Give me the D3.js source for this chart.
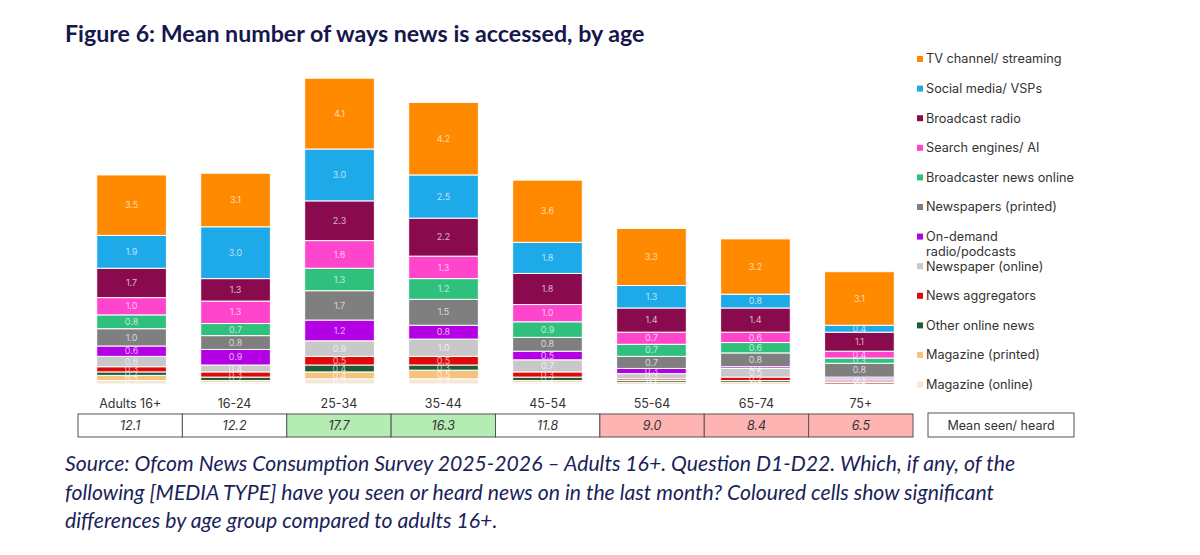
<!DOCTYPE html>
<html>
<head>
<meta charset="utf-8">
<script src="https://cdn.jsdelivr.net/npm/d3@7"></script>
<style>
  body { margin: 0; background: #fff; }
  svg { display: block; }
</style>
</head>
<body>
<div id="chart"></div>
<script>
// age groups and the mean seen/heard row
var ageGroups = ["Adults 16+", "16-24", "25-34", "35-44", "45-54", "55-64", "65-74", "75+"];
var meanSeen = [12.1, 12.2, 17.7, 16.3, 11.8, 9.0, 8.4, 6.5];
var meanSig = ["none", "none", "higher", "higher", "none", "lower", "lower", "lower"];

// series, top of stack first
var seriesNames = ["TV channel/ streaming", "Social media/ VSPs", "Broadcast radio", "Search engines/ AI",
    "Broadcaster news online", "Newspapers (printed)", "On-demand radio/podcasts", "Newspaper (online)",
    "News aggregators", "Other online news", "Magazine (printed)", "Magazine (online)"];
var seriesColors = ["#ff8a00", "#1eaae8", "#8a0a4e", "#ff45cc", "#30c07e", "#7f7f7f",
    "#b400e4", "#c8c8c8", "#e00808", "#1d5c38", "#f7c27e", "#f3e7d8"];

var tvStreaming      = [3.5, 3.1, 4.1, 4.2, 3.6, 3.3, 3.2, 3.1];
var socialMedia      = [1.9, 3.0, 3.0, 2.5, 1.8, 1.3, 0.8, 0.4];
var broadcastRadio   = [1.7, 1.3, 2.3, 2.2, 1.8, 1.4, 1.4, 1.1];
var searchEngines    = [1.0, 1.3, 1.6, 1.3, 1.0, 0.7, 0.6, 0.4];
var broadcasterOnline= [0.8, 0.7, 1.3, 1.2, 0.9, 0.7, 0.6, 0.3];
var newspapersPrint  = [1.0, 0.8, 1.7, 1.5, 0.8, 0.7, 0.8, 0.8];
var onDemand         = [0.6, 0.9, 1.2, 0.8, 0.5, 0.3, 0.1, 0.1];
var newspaperOnline  = [0.6, 0.4, 0.9, 1.0, 0.7, 0.3, 0.5, 0.2];
var newsAggregators  = [0.3, 0.3, 0.5, 0.5, 0.3, 0.1, 0.2, 0.1];
var otherOnline      = [0.2, 0.2, 0.4, 0.3, 0.2, 0.1, 0.1, 0.0];
var magazinePrint    = [0.3, 0.1, 0.4, 0.5, 0.1, 0.1, 0.1, 0.0];
var magazineOnline   = [0.2, 0.1, 0.3, 0.3, 0.1, 0.0, 0.0, 0.0];

var seriesValues = [tvStreaming, socialMedia, broadcastRadio, searchEngines, broadcasterOnline,
    newspapersPrint, onDemand, newspaperOnline, newsAggregators, otherOnline, magazinePrint, magazineOnline];

// rows for d3.stack
var rows = ageGroups.map(function(age, i) {
    var r = {age: age};
    seriesNames.forEach(function(s, j) { r[s] = seriesValues[j][i]; });
    return r;
});

var width = 1200, height = 555;
var svg = d3.select("#chart").append("svg")
    .attr("width", width)
    .attr("height", height);

var font = "Inter, 'Noto Sans', sans-serif";

// title
svg.append("text")
    .attr("x", 65).attr("y", 42)
    .attr("font-family", "Lato, 'Open Sans', sans-serif")
    .attr("font-weight", "bold")
    .attr("font-size", 23.2)
    .attr("fill", "#15174d")
    .text("Figure 6: Mean number of ways news is accessed, by age");

var x = d3.scaleBand()
    .domain(ageGroups)
    .range([78, 913])
    .paddingInner(0.33)
    .paddingOuter(0.18);

var cellX = d3.scaleBand()
    .domain(ageGroups)
    .range([78, 913]);

var y = d3.scaleLinear()
    .domain([0, 18])
    .range([384, 73]);

// bottom of stack is the last series
var stack = d3.stack().keys(seriesNames.slice().reverse());
var stacked = stack(rows);

var color = d3.scaleOrdinal().domain(seriesNames).range(seriesColors);

var layers = svg.append("g").selectAll("g")
    .data(stacked)
    .join("g")
    .attr("fill", function(d) { return color(d.key); });

layers.selectAll("rect")
    .data(function(d) { return d; })
    .join("rect")
    .attr("x", function(d) { return x(d.data.age); })
    .attr("width", x.bandwidth())
    .attr("y", function(d) { return y(d[1]); })
    .attr("height", function(d) { return Math.max(0, y(d[0]) - y(d[1])); })
    .attr("stroke", "#fff")
    .attr("stroke-width", 1);

var fmt = d3.format(".1f");
layers.selectAll("text")
    .data(function(d) { return d.filter(function(p) { return p[1] - p[0] > 0; }); })
    .join("text")
    .attr("x", function(d) { return x(d.data.age) + x.bandwidth() / 2; })
    .attr("y", function(d) { return (y(d[0]) + y(d[1])) / 2; })
    .attr("dy", "0.35em")
    .attr("text-anchor", "middle")
    .attr("font-family", font)
    .attr("font-size", 9)
    .attr("fill", "#fff")
    .attr("fill-opacity", 0.7)
    .text(function(d) { return fmt(d[1] - d[0]); });

// age labels
svg.append("g").selectAll("text")
    .data(ageGroups)
    .join("text")
    .attr("x", function(d) { return cellX(d) + cellX.bandwidth() / 2; })
    .attr("y", 408)
    .attr("text-anchor", "middle")
    .attr("font-family", font)
    .attr("font-size", 12.5)
    .attr("fill", "#333")
    .text(function(d) { return d; });

// mean seen/heard row
var sigFill = {none: "#ffffff", higher: "#b4ecb4", lower: "#ffb4b4"};
var cells = svg.append("g").selectAll("g")
    .data(ageGroups)
    .join("g");

cells.append("rect")
    .attr("x", function(d) { return cellX(d); })
    .attr("y", 414)
    .attr("width", cellX.bandwidth())
    .attr("height", 23)
    .attr("fill", function(d, i) { return sigFill[meanSig[i]]; })
    .attr("stroke", "#555")
    .attr("stroke-width", 1);

cells.append("text")
    .attr("x", function(d) { return cellX(d) + cellX.bandwidth() / 2; })
    .attr("y", 430)
    .attr("text-anchor", "middle")
    .attr("font-family", font)
    .attr("font-style", "italic")
    .attr("font-size", 12.5)
    .attr("fill", "#333")
    .text(function(d, i) { return fmt(meanSeen[i]); });

svg.append("rect")
    .attr("x", 928).attr("y", 413)
    .attr("width", 146).attr("height", 24)
    .attr("fill", "#fff")
    .attr("stroke", "#555");

svg.append("text")
    .attr("x", 1001).attr("y", 429.5)
    .attr("text-anchor", "middle")
    .attr("font-family", font)
    .attr("font-size", 12.5)
    .attr("fill", "#333")
    .text("Mean seen/ heard");

// legend
var legend = svg.append("g").selectAll("g")
    .data(seriesNames)
    .join("g")
    .attr("transform", function(d, i) { return "translate(917," + (59 + i * 29.6) + ")"; });

legend.append("rect")
    .attr("x", 0).attr("y", -3)
    .attr("width", 6).attr("height", 6)
    .attr("fill", function(d) { return color(d); });

legend.append("text")
    .attr("x", 9)
    .attr("font-family", font)
    .attr("font-size", 12.7)
    .attr("fill", "#333")
    .each(function(d) {
        var parts = d === "On-demand radio/podcasts" ? ["On-demand", "radio/podcasts"] : [d];
        d3.select(this).selectAll("tspan")
            .data(parts)
            .join("tspan")
            .attr("x", 9)
            .attr("dy", function(p, i) { return i === 0 ? "0.35em" : "1.15em"; })
            .text(function(p) { return p; });
    });

// source note
var sourceLines = [
    "Source: Ofcom News Consumption Survey 2025-2026 \u2013 Adults 16+. Question D1-D22. Which, if any, of the",
    "following [MEDIA TYPE] have you seen or heard news on in the last month? Coloured cells show significant",
    "differences by age group compared to adults 16+."
];
svg.append("g").selectAll("text")
    .data(sourceLines)
    .join("text")
    .attr("x", 65)
    .attr("y", function(d, i) { return 471 + i * 28.5; })
    .attr("font-family", "Lato, 'Open Sans', sans-serif")
    .attr("font-style", "italic")
    .attr("font-size", 21.2)
    .attr("fill", "#1b1f5a")
    .text(function(d) { return d; });
</script>
</body>
</html>
